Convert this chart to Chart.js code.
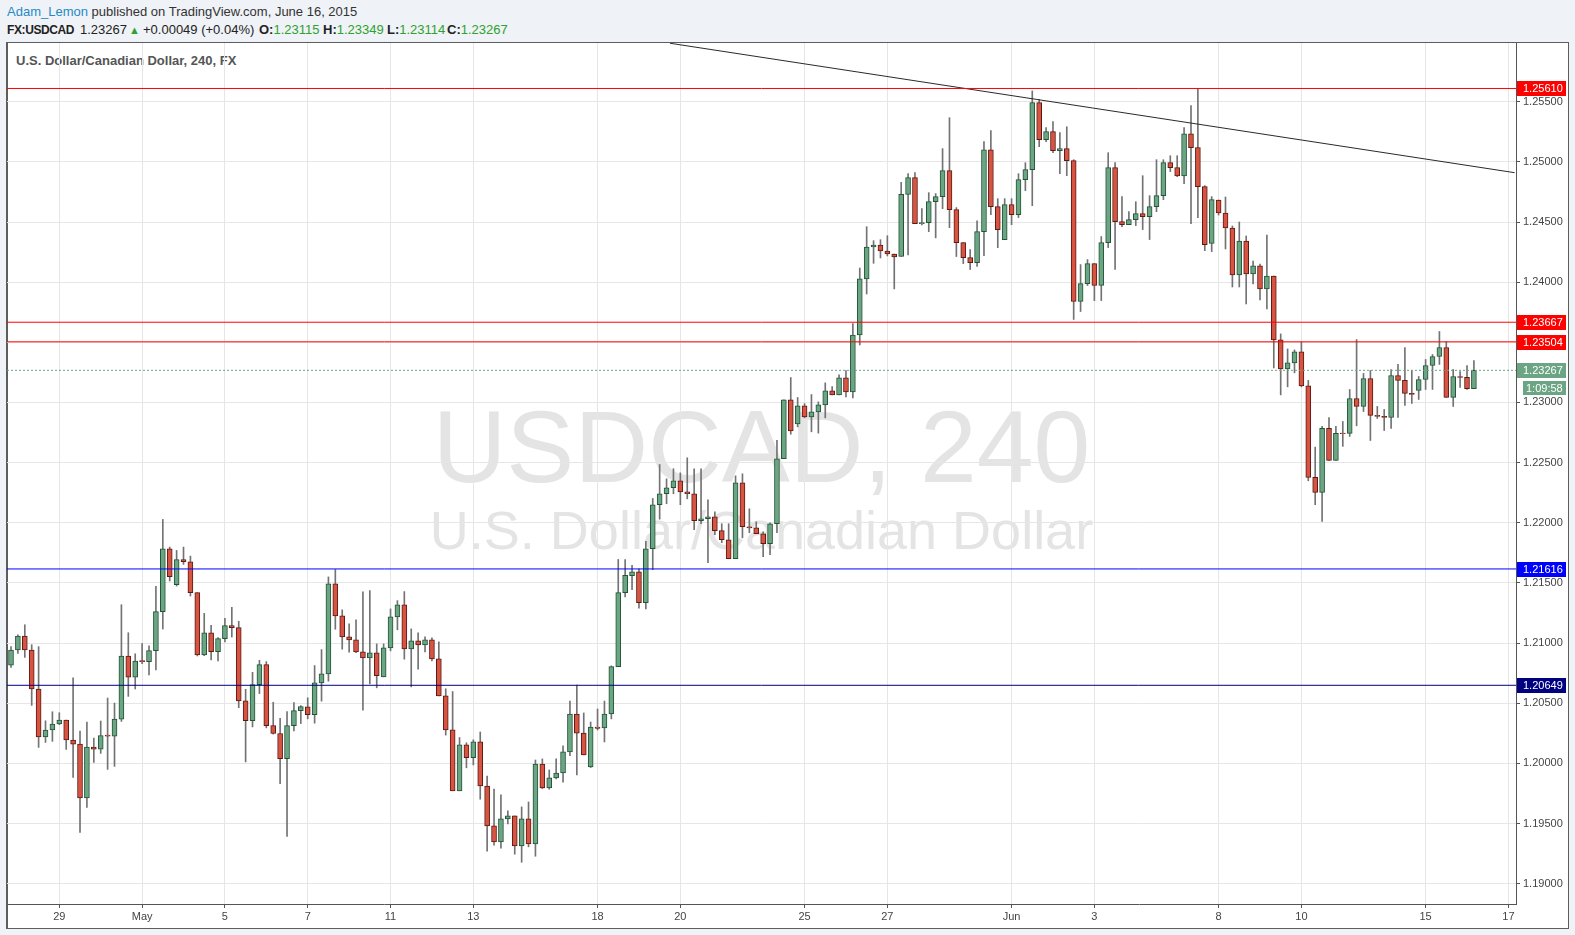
<!DOCTYPE html>
<html>
<head>
<meta charset="utf-8">
<script src="https://cdn.jsdelivr.net/npm/chart.js@4.4.1/dist/chart.umd.min.js"></script>
<style>
  html, body { margin:0; padding:0; }
  body { width:1575px; height:935px; position:relative; overflow:hidden; background:#eff2f6; font-family:"Liberation Sans", Arial, sans-serif; }
  .t { position:absolute; white-space:nowrap; font-size:13px; line-height:16px; color:#333; }
  .b { font-weight:bold; color:#222; }
  .g { color:#2ea12e; }
  #frame { position:absolute; left:6px; top:42px; width:1563px; height:887px; box-sizing:border-box; border:1px solid #5d5d5d; border-left:2px solid #5d5d5d; background:#fff; }
  .wm { position:absolute; left:7px; width:1509px; text-align:center; color:#e4e4e4; white-space:nowrap; line-height:1; font-family:"Liberation Sans", Arial, sans-serif; }
  #c { position:absolute; left:0; top:0; }
</style>
</head>
<body>
<div class="t" style="left:7px;top:4px;"><span style="color:#1f8ac8">Adam_Lemon</span> published on TradingView.com, June 16, 2015</div>
<div class="t b" style="left:7px;top:22px;font-size:12px;letter-spacing:-0.4px;">FX:USDCAD</div>
<div class="t" style="left:80px;top:22px;color:#222">1.23267</div>
<div class="t g" style="left:129px;top:22px;font-size:11px;">&#9650;</div>
<div class="t" style="left:143px;top:22px;color:#222">+0.00049 (+0.04%)</div>
<div class="t" style="left:259px;top:22px;"><span class="b">O:</span><span class="g">1.23115</span></div>
<div class="t" style="left:323px;top:22px;"><span class="b">H:</span><span class="g">1.23349</span></div>
<div class="t" style="left:387px;top:22px;"><span class="b">L:</span><span class="g">1.23114</span></div>
<div class="t" style="left:447px;top:22px;"><span class="b">C:</span><span class="g">1.23267</span></div>

<div id="frame"></div>
<div class="wm" style="top:396px;font-size:102px;">USDCAD, 240</div>
<div class="wm" style="top:503px;font-size:54px;">U.S. Dollar/Canadian Dollar</div>
<div class="t b" style="left:16px;top:53px;color:#555;">U.S. Dollar/Canadian Dollar, 240, FX</div>

<canvas id="c" width="1575" height="935"></canvas>

<script>
// ---------- DATA ----------
const firstIndex = -7;   // bar index of the first candle (index 0 = first bar of Apr 29)
const opens = [
1.20817,1.20942,1.21058,1.20942,1.20618,1.20219,1.20277,
1.20327,1.20360,1.20194,1.20160,1.19712,1.20136,1.20119,1.20235,1.20227,1.20368,1.20892,1.20717,
1.20854,1.20846,1.20937,1.21261,1.21784,1.21485,1.21693,1.21676,1.21419,1.20901,1.21086,1.20929,
1.21037,1.21145,1.21128,1.20519,1.20355,1.20654,1.20821,1.20314,1.20248,1.20040,1.20314,1.20439,
1.20470,1.20404,1.20669,1.20744,1.21492,1.21226,1.21051,1.21027,1.20927,1.20877,1.20919,1.20719,
1.20960,1.21218,1.21317,1.20952,1.21018,1.20985,1.21027,1.20869,1.20561,1.20279,1.19772,1.20154,
1.20047,1.20178,1.19812,1.19480,1.19347,1.19538,1.19563,1.19314,1.19538,1.19331,1.19995,1.19796,
1.19879,1.19920,1.20095,1.20410,1.20252,1.19970,1.20302,1.20294,1.20410,1.20804,1.21419,1.21560,
1.21593,1.21336,1.21784,1.22150,1.22241,1.22291,1.22349,1.22257,1.22241,1.22017,1.22033,1.22050,
1.21934,1.21859,1.21701,1.22332,1.21967,1.21958,1.21909,1.21826,1.21992,1.22532,1.23022,1.22822,
1.22972,1.22880,1.22922,1.22980,1.23096,1.23063,1.23204,1.23088,1.23561,1.24027,1.24292,1.24309,
1.24259,1.24234,1.24213,1.24730,1.24869,1.24487,1.24495,1.24669,1.24711,1.24927,1.24603,1.24329,
1.24204,1.24163,1.24420,1.25101,1.24628,1.24354,1.24645,1.24561,1.24852,1.24935,1.25492,1.25184,
1.25251,1.25093,1.25110,1.25010,1.23839,1.23988,1.24154,1.23972,1.24329,1.24952,1.24503,1.24478,
1.24520,1.24570,1.24545,1.24628,1.24719,1.24993,1.24952,1.24883,1.25234,1.25118,1.24794,1.24321,
1.24683,1.24575,1.24450,1.24060,1.24342,1.24068,1.24135,1.23944,1.24051,1.23520,1.23279,1.23329,
1.23420,1.23138,1.22377,1.22252,1.22784,1.22518,1.22745,1.22743,1.23033,1.22967,1.23199,1.22892,
1.22884,1.22875,1.23224,1.23183,1.23075,1.23100,1.23191,1.23307,1.23382,1.23457,1.23042,1.23216,
1.23208,1.23115
];
const highs = [
1.20970,1.21069,1.21152,1.20986,1.20970,1.20354,1.20429,
1.20421,1.20360,1.20712,1.20268,1.20343,1.20210,1.20352,1.20543,1.20501,1.21319,1.21086,1.20911,
1.20995,1.20978,1.21471,1.22028,1.21798,1.21770,1.21798,1.21723,1.21419,1.21247,1.21147,1.21045,
1.21205,1.21297,1.21181,1.20616,1.20757,1.20857,1.20846,1.20508,1.20375,1.20430,1.20505,1.20480,
1.20545,1.20813,1.20946,1.21550,1.21611,1.21276,1.21159,1.21193,1.21425,1.21436,1.20993,1.20993,
1.21284,1.21353,1.21428,1.21118,1.21085,1.21051,1.21043,1.21010,1.20620,1.20597,1.20215,1.20171,
1.20196,1.20261,1.19895,1.19787,1.19738,1.19605,1.19563,1.19638,1.19679,1.20028,1.20037,1.19945,
1.20037,1.20145,1.20518,1.20651,1.20419,1.20344,1.20452,1.20518,1.20810,1.21695,1.21695,1.21646,
1.21618,1.21845,1.22202,1.22484,1.22365,1.22449,1.22415,1.22540,1.22449,1.22449,1.22191,1.22091,
1.21992,1.21992,1.22390,1.22407,1.22116,1.22008,1.21925,1.22000,1.22685,1.23022,1.23207,1.23041,
1.22991,1.23066,1.23005,1.23163,1.23132,1.23229,1.23265,1.23656,1.24118,1.24461,1.24345,1.24353,
1.24386,1.24234,1.24830,1.24902,1.24910,1.24611,1.24744,1.24736,1.25110,1.25367,1.24620,1.24329,
1.24271,1.24509,1.25168,1.25259,1.24694,1.24694,1.24694,1.24902,1.24993,1.25590,1.25519,1.25284,
1.25334,1.25243,1.25292,1.25018,1.24146,1.24188,1.24154,1.24379,1.25076,1.24993,1.24711,1.24586,
1.24669,1.24885,1.24719,1.25018,1.25018,1.25051,1.25051,1.25284,1.25467,1.25610,1.24802,1.24711,
1.24683,1.24708,1.24467,1.24500,1.24384,1.24176,1.24151,1.24392,1.24051,1.23570,1.23445,1.23437,
1.23503,1.23183,1.22629,1.22801,1.22875,1.22801,1.22842,1.23108,1.23523,1.23241,1.23266,1.22967,
1.22942,1.23274,1.23316,1.23457,1.23266,1.23216,1.23357,1.23399,1.23590,1.23507,1.23274,1.23257,
1.23307,1.23349
];
const lows = [
1.20798,1.20914,1.20881,1.20482,1.20133,1.20174,1.20183,
1.20322,1.20116,1.19883,1.19426,1.19634,1.20008,1.20083,1.19950,1.19975,1.20349,1.20557,1.20618,
1.20829,1.20735,1.20776,1.21117,1.21516,1.21474,1.21654,1.21391,1.20893,1.20895,1.20859,1.20851,
1.21009,1.21050,1.20463,1.20012,1.20303,1.20580,1.20295,1.20243,1.19832,1.19392,1.20270,1.20331,
1.20370,1.20334,1.20517,1.20683,1.21115,1.20949,1.20924,1.20920,1.20442,1.20661,1.20628,1.20719,
1.20935,1.21110,1.20866,1.20636,1.20783,1.20927,1.20852,1.20561,1.20235,1.19772,1.19772,1.19963,
1.19987,1.19702,1.19270,1.19320,1.19295,1.19497,1.19245,1.19178,1.19306,1.19228,1.19790,1.19785,
1.19870,1.19843,1.20064,1.19904,1.20070,1.19965,1.20277,1.20178,1.20370,1.20804,1.21383,1.21444,
1.21291,1.21283,1.21610,1.22030,1.22158,1.22241,1.22150,1.22199,1.21942,1.21992,1.21668,1.21900,
1.21834,1.21701,1.21701,1.21875,1.21917,1.21909,1.21718,1.21734,1.21917,1.22532,1.22736,1.22797,
1.22872,1.22756,1.22745,1.22872,1.23063,1.23063,1.23047,1.23038,1.23478,1.23902,1.24157,1.24201,
1.24218,1.23944,1.24213,1.24226,1.24487,1.24476,1.24420,1.24368,1.24611,1.24453,1.24213,1.24154,
1.24105,1.24130,1.24221,1.24561,1.24287,1.24354,1.24478,1.24537,1.24761,1.24636,1.25126,1.25168,
1.25076,1.24902,1.24885,1.23690,1.23756,1.23972,1.23847,1.23847,1.24287,1.24105,1.24462,1.24478,
1.24470,1.24437,1.24354,1.24586,1.24686,1.24919,1.24877,1.24819,1.24487,1.24537,1.24262,1.24254,
1.24558,1.24276,1.23960,1.23960,1.23819,1.23985,1.23852,1.23777,1.23287,1.23063,1.23130,1.23246,
1.23130,1.22349,1.22150,1.22012,1.22518,1.22518,1.22635,1.22718,1.22806,1.22925,1.22684,1.22867,
1.22767,1.22784,1.22875,1.22975,1.22992,1.23025,1.23108,1.23108,1.23316,1.23042,1.22967,1.23125,
1.23108,1.23114
];
const closes = [
1.20942,1.21058,1.20942,1.20618,1.20219,1.20277,1.20327,
1.20360,1.20194,1.20160,1.19712,1.20136,1.20119,1.20232,1.20227,1.20368,1.20892,1.20717,1.20850,
1.20846,1.20937,1.21261,1.21784,1.21551,1.21693,1.21676,1.21419,1.20901,1.21086,1.20929,1.21037,
1.21145,1.21128,1.20519,1.20355,1.20654,1.20821,1.20314,1.20248,1.20040,1.20314,1.20439,1.20472,
1.20404,1.20669,1.20744,1.21492,1.21226,1.21051,1.21027,1.20927,1.20877,1.20919,1.20728,1.20960,
1.21218,1.21317,1.20952,1.21018,1.20985,1.21027,1.20869,1.20561,1.20279,1.19772,1.20154,1.20047,
1.20179,1.19812,1.19480,1.19347,1.19538,1.19563,1.19314,1.19538,1.19331,1.19995,1.19796,1.19879,
1.19920,1.20095,1.20410,1.20252,1.20070,1.20302,1.20291,1.20410,1.20804,1.21419,1.21563,1.21593,
1.21336,1.21784,1.22150,1.22241,1.22291,1.22349,1.22257,1.22241,1.22017,1.22033,1.22050,1.21934,
1.21859,1.21701,1.22332,1.21967,1.21958,1.21909,1.21826,1.21992,1.22532,1.23022,1.22764,1.22972,
1.22880,1.22922,1.22980,1.23096,1.23063,1.23204,1.23088,1.23561,1.24027,1.24292,1.24309,1.24259,
1.24234,1.24209,1.24730,1.24869,1.24487,1.24495,1.24669,1.24711,1.24927,1.24603,1.24329,1.24204,
1.24163,1.24420,1.25101,1.24628,1.24437,1.24645,1.24561,1.24852,1.24935,1.25492,1.25184,1.25251,
1.25093,1.25110,1.25010,1.23839,1.23988,1.24154,1.23972,1.24329,1.24952,1.24503,1.24478,1.24520,
1.24570,1.24545,1.24628,1.24719,1.24993,1.24952,1.24883,1.25234,1.25118,1.24794,1.24312,1.24686,
1.24575,1.24450,1.24060,1.24342,1.24068,1.24135,1.23944,1.24051,1.23520,1.23279,1.23329,1.23420,
1.23138,1.22377,1.22252,1.22784,1.22518,1.22743,1.22740,1.23033,1.22967,1.23199,1.22892,1.22884,
1.22875,1.23224,1.23183,1.23075,1.23066,1.23191,1.23307,1.23382,1.23457,1.23042,1.23216,1.23208,
1.23115,1.23267
];
const xTickIndex  = [0, 12, 24, 36, 48, 60, 78, 90, 108, 120, 138, 150, 168, 180, 198, 210];
const xTickLabels = ['29','May','5','7','11','13','18','20','25','27','Jun','3','8','10','15','17'];
const yTickValues = [1.190,1.195,1.200,1.205,1.210,1.215,1.220,1.225,1.230,1.235,1.240,1.245,1.250,1.255];
const levelValues = [1.25610, 1.23667, 1.23504, 1.21616, 1.20649];
const lastPrice = 1.23267;
const countdownText = '1:09:58';
const trendX = [88.5, 210.9];
const trendY = [1.25986, 1.24910];

// ---------- STYLE / LAYOUT ----------
const levelColors = ['#ff0000', '#ff0000', '#ff0000', '#0000ff', '#000080'];
const UP_FILL = '#6ba583', UP_LINE = '#225437', DN_FILL = '#d75442', DN_LINE = '#5b1a13', WICK = '#737375';
const X_MIN = -7.58, X_MAX = 211.1, Y_MIN = 1.18831, Y_MAX = 1.25988;
const FONT = '"Liberation Sans", Arial, sans-serif';

const xs = opens.map((_, k) => firstIndex + k);
const isUp = opens.map((o, k) => closes[k] >= o);

const levelSets = levelValues.map((v, i) => ({
  type: 'line', data: [{x: X_MIN, y: v}, {x: X_MAX, y: v}],
  borderColor: levelColors[i], borderWidth: 1, pointRadius: 0, order: -1
}));

const tagPlugin = {
  id: 'tags',
  afterDraw(chart) {
    const {ctx, chartArea, scales: {y}} = chart;
    const xL = chartArea.right + 1, w = 49;
    ctx.save();
    ctx.font = '11px ' + FONT;
    ctx.textBaseline = 'middle';
    ctx.textAlign = 'left';
    const tag = (v, color) => {
      const py = Math.round(y.getPixelForValue(v));
      ctx.fillStyle = color;
      ctx.fillRect(xL, py - 7, w, 15);
      ctx.fillStyle = '#ffffff';
      ctx.fillText(v.toFixed(5), chartArea.right + 7, py + 1);
      return py;
    };
    levelValues.forEach((v, i) => tag(v, levelColors[i]));
    const py = tag(lastPrice, '#6ba583');
    ctx.fillStyle = '#6ba583';
    ctx.fillRect(chartArea.right + 7, py + 11, 43, 14);
    ctx.fillStyle = '#ffffff';
    ctx.fillText(countdownText, chartArea.right + 10, py + 18.5);
    ctx.restore();
  }
};

new Chart(document.getElementById('c'), {
  type: 'bar',
  data: {
    datasets: [
      {
        type: 'bar', label: 'body',
        data: xs.map((x, k) => ({x, y: [Math.min(opens[k], closes[k]), Math.max(opens[k], closes[k])]})),
        backgroundColor: isUp.map(u => u ? UP_FILL : DN_FILL),
        borderColor: isUp.map(u => u ? UP_LINE : DN_LINE),
        borderWidth: 1, borderSkipped: false, barThickness: 5, grouped: false, order: 0
      },
      {
        type: 'bar', label: 'wick',
        data: xs.map((x, k) => ({x, y: [lows[k], highs[k]]})),
        backgroundColor: WICK, borderWidth: 0, barThickness: 1, grouped: false, order: 1
      },
      ...levelSets,
      {
        type: 'line', data: [{x: X_MIN, y: lastPrice}, {x: X_MAX, y: lastPrice}],
        borderColor: '#6ba583', borderWidth: 1, borderDash: [2, 2], pointRadius: 0, order: -1
      },
      {
        type: 'line', data: trendX.map((x, k) => ({x, y: trendY[k]})),
        borderColor: '#2a2a2a', borderWidth: 1, pointRadius: 0, order: -1
      }
    ]
  },
  options: {
    responsive: false, animation: false, devicePixelRatio: 1, events: [],
    layout: {padding: {left: 7, top: 43, right: 7, bottom: 7}},
    plugins: {legend: {display: false}, tooltip: {enabled: false}},
    scales: {
      x: {
        type: 'linear', min: X_MIN, max: X_MAX, offset: false,
        grid: {color: '#e6e6e6', offset: false, drawTicks: true, tickLength: 4, tickColor: '#555'},
        border: {display: true, color: '#555'},
        ticks: {
          autoSkip: false, maxRotation: 0, padding: 2, color: '#444', font: {family: FONT, size: 11},
          callback: (v) => { const i = xTickIndex.indexOf(v); return i >= 0 ? xTickLabels[i] : ''; }
        },
        afterBuildTicks: (s) => { s.ticks = xTickIndex.map(v => ({value: v})); },
        afterFit: (s) => { s.height = 24; }
      },
      y: {
        type: 'linear', position: 'right', min: Y_MIN, max: Y_MAX, beginAtZero: false,
        grid: {color: '#e6e6e6', tickLength: 4, tickColor: '#555'},
        border: {display: true, color: '#555'},
        ticks: {padding: 3, color: '#444', font: {family: FONT, size: 11}, callback: (v) => Number(v).toFixed(5)},
        afterBuildTicks: (s) => { s.ticks = yTickValues.map(v => ({value: v})); },
        afterFit: (s) => { s.width = 52; }
      }
    }
  },
  plugins: [tagPlugin]
});
</script>
</body>
</html>
